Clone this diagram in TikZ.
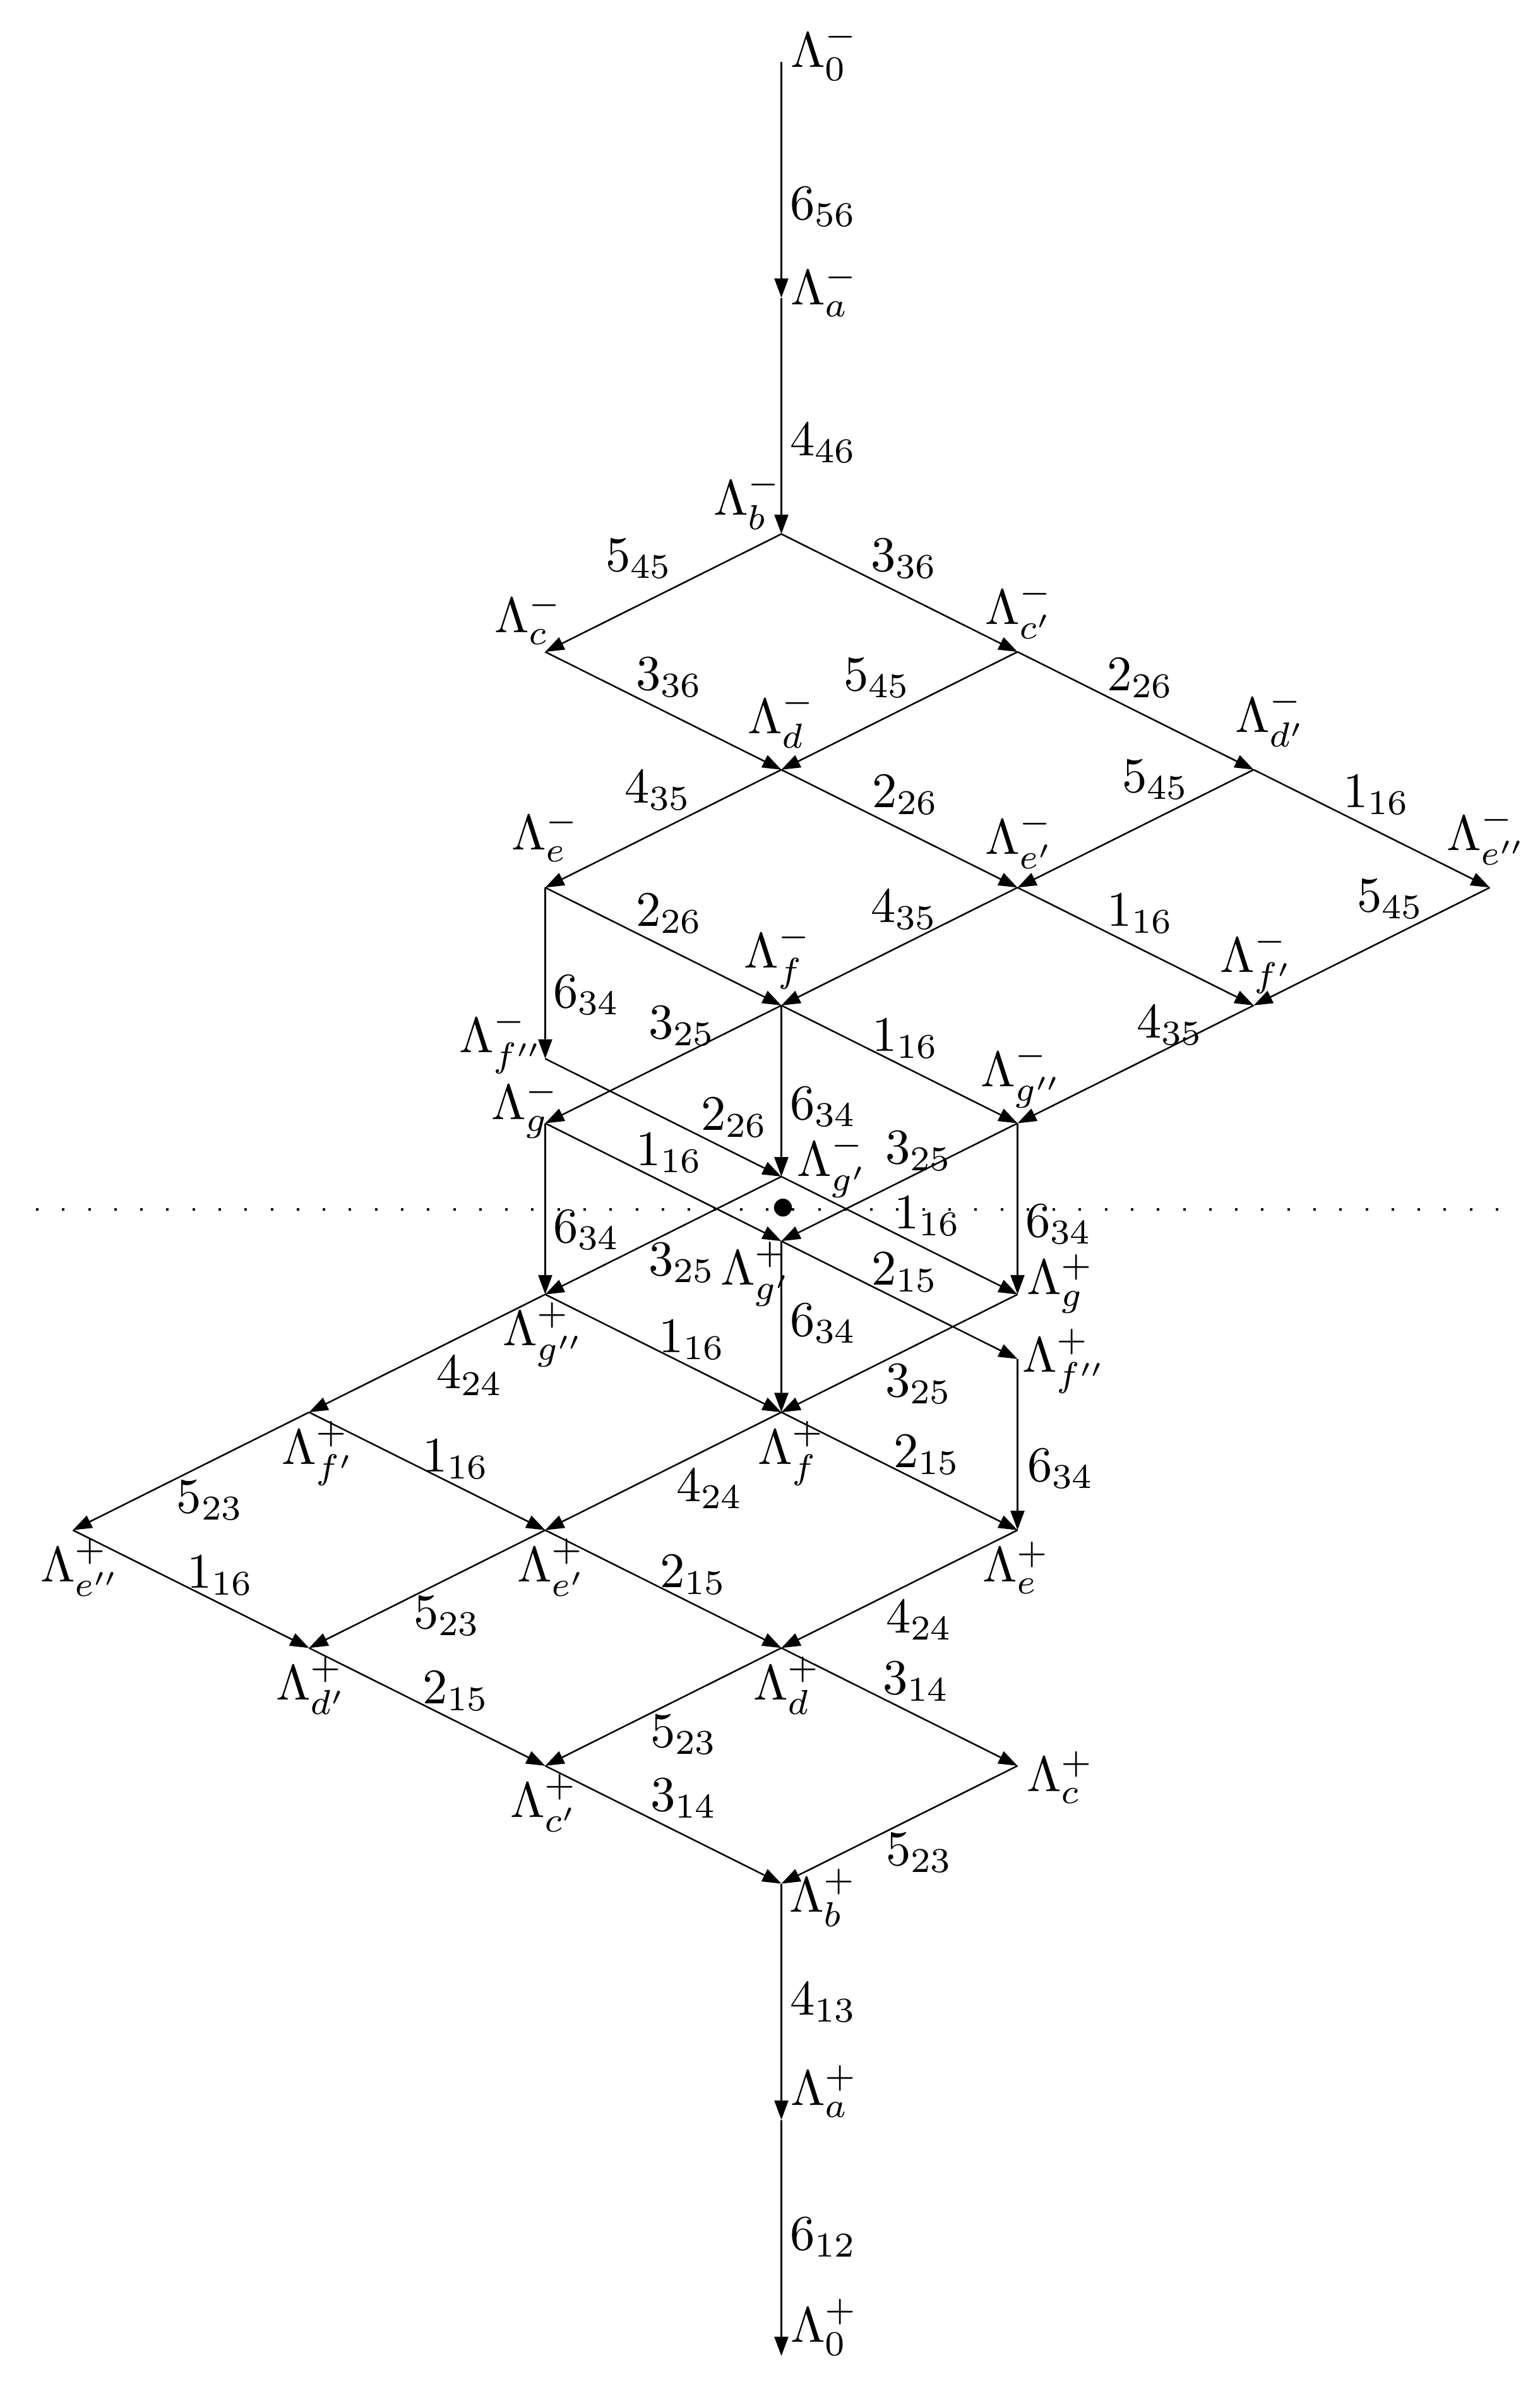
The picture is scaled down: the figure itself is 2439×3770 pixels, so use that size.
\documentclass[tikz,border=0pt]{standalone}
\usetikzlibrary{arrows.meta}
\newcommand\mylab[4]{\node[lab] (#1) at (#2,#3) {$#4$};}
\begin{document}
\begin{tikzpicture}[x=0.127pt,y=-0.127pt,
  dg/.style={line width=0.32pt,-{Triangle[length=3.8pt,width=2.7pt]}},
  vt/.style={line width=0.45pt,-{Triangle[length=3.9pt,width=2.75pt]}},
  lab/.style={anchor=base west,inner sep=0pt,outer sep=0pt}]
\useasboundingbox (0,0) rectangle (2439,3770);
% vertices
\coordinate (m0) at (1237.5,97.5);
\coordinate (ma) at (1237.5,471.5);
\coordinate (mb) at (1237.5,845.5);
\coordinate (mc) at (863.5,1032.1);
\coordinate (mc1) at (1611.5,1032.1);
\coordinate (md) at (1237.5,1218.7);
\coordinate (md1) at (1985.5,1218.7);
\coordinate (me) at (863.5,1405.3);
\coordinate (me1) at (1611.5,1405.3);
\coordinate (me2) at (2359.5,1405.3);
\coordinate (mf) at (1237.5,1591.9);
\coordinate (mf1) at (1985.5,1591.9);
\coordinate (mf2) at (863.5,1676.3);
\coordinate (mg) at (863.5,1778.5);
\coordinate (mg2) at (1611.5,1778.5);
\coordinate (mg1) at (1237.5,1862.9);
\coordinate (pg1) at (1237.5,1965.1);
\coordinate (pg) at (1611.5,2049.5);
\coordinate (pg2) at (863.5,2049.5);
\coordinate (pf2) at (1611.5,2151.7);
\coordinate (pf) at (1237.5,2236.1);
\coordinate (pf1) at (489.5,2236.1);
\coordinate (pe) at (1611.5,2422.7);
\coordinate (pe1) at (863.5,2422.7);
\coordinate (pe2) at (115.5,2422.7);
\coordinate (pd) at (1237.5,2609.3);
\coordinate (pd1) at (489.5,2609.3);
\coordinate (pc) at (1611.5,2795.9);
\coordinate (pc1) at (863.5,2795.9);
\coordinate (pb) at (1237.5,2982.5);
\coordinate (pa) at (1237.5,3356.5);
\coordinate (p0) at (1237.5,3730.5);
% dotted line and dot
\foreach \i in {0,...,56} {\fill ({57+41.286*\i},1913) rectangle +(4,4);}
\fill (1240,1912) circle (1.8pt);
% vertical edges
\draw[vt] (m0) -- (ma);
\draw[vt] (ma) -- (mb);
\draw[vt] (me) -- (mf2);
\draw[vt] (mf) -- (mg1);
\draw[vt] (mg) -- (pg2);
\draw[vt] (mg2) -- (pg);
\draw[vt] (pg1) -- (pf);
\draw[vt] (pf2) -- (pe);
\draw[vt] (pb) -- (pa);
\draw[vt] (pa) -- (p0);
% diagonal edges, upper part
\draw[dg] (mb) -- (mc);
\draw[dg] (mb) -- (mc1);
\draw[dg] (mc) -- (md);
\draw[dg] (mc1) -- (md);
\draw[dg] (mc1) -- (md1);
\draw[dg] (md) -- (me);
\draw[dg] (md) -- (me1);
\draw[dg] (md1) -- (me1);
\draw[dg] (md1) -- (me2);
\draw[dg] (me) -- (mf);
\draw[dg] (me1) -- (mf);
\draw[dg] (me1) -- (mf1);
\draw[dg] (me2) -- (mf1);
\draw[dg] (mf) -- (mg);
\draw[dg] (mf) -- (mg2);
\draw[dg] (mf1) -- (mg2);
\draw[dg] (mf2) -- (mg1);
% middle
\draw[dg] (mg) -- (pg1);
\draw[dg] (mg2) -- (pg1);
\draw[dg] (mg1) -- (pg2);
\draw[dg] (mg1) -- (pg);
\draw[dg] (pg1) -- (pf2);
% lower part
\draw[dg] (pg2) -- (pf1);
\draw[dg] (pg2) -- (pf);
\draw[dg] (pg) -- (pf);
\draw[dg] (pf1) -- (pe2);
\draw[dg] (pf1) -- (pe1);
\draw[dg] (pf) -- (pe1);
\draw[dg] (pf) -- (pe);
\draw[dg] (pe2) -- (pd1);
\draw[dg] (pe1) -- (pd1);
\draw[dg] (pe1) -- (pd);
\draw[dg] (pe) -- (pd);
\draw[dg] (pd1) -- (pc1);
\draw[dg] (pd) -- (pc1);
\draw[dg] (pd) -- (pc);
\draw[dg] (pc1) -- (pb);
\draw[dg] (pc) -- (pb);
% vertex labels
\mylab{L0m}{1252}{106}{\Lambda_0^-}
\mylab{Lam}{1252}{482}{\Lambda_a^-}
\mylab{Lbm}{1130}{815}{\Lambda_b^-}
\mylab{Lcm}{783}{1001}{\Lambda_c^-}
\mylab{Lc1m}{1560}{988}{\Lambda_{c'}^-}
\mylab{Ldm}{1184}{1161}{\Lambda_d^-}
\mylab{Ld1m}{1956}{1159}{\Lambda_{d'}^-}
\mylab{Lem}{810}{1345}{\Lambda_e^-}
\mylab{Le1m}{1560}{1352}{\Lambda_{e'}^-}
\mylab{Le2m}{2291}{1346}{\Lambda_{e''}^-}
\mylab{Lfm}{1178}{1532}{\Lambda_f^-}
\mylab{Lf1m}{1932}{1539}{\Lambda_{f'}^-}
\mylab{Lf2m}{727}{1666}{\Lambda_{f''}^-}
\mylab{Lgm}{778}{1772}{\Lambda_g^-}
\mylab{Lg2m}{1553}{1720}{\Lambda_{g''}^-}
\mylab{Lg1m}{1262}{1862}{\Lambda_{g'}^-}
\mylab{Lg1p}{1141}{2034}{\Lambda_{g'}^+}
\mylab{Lgp}{1626}{2049}{\Lambda_g^+}
\mylab{Lg2p}{796}{2130}{\Lambda_{g''}^+}
\mylab{Lf2p}{1619}{2172}{\Lambda_{f''}^+}
\mylab{Lfp}{1200}{2318}{\Lambda_f^+}
\mylab{Lf1p}{446}{2318}{\Lambda_{f'}^+}
\mylab{Lep}{1556}{2504}{\Lambda_e^+}
\mylab{Le1p}{819}{2504}{\Lambda_{e'}^+}
\mylab{Le2p}{64}{2504}{\Lambda_{e''}^+}
\mylab{Ldp}{1193}{2691}{\Lambda_d^+}
\mylab{Ld1p}{437}{2691}{\Lambda_{d'}^+}
\mylab{Lcp}{1626}{2836}{\Lambda_c^+}
\mylab{Lc1p}{808}{2877}{\Lambda_{c'}^+}
\mylab{Lbp}{1250}{3027}{\Lambda_b^+}
\mylab{Lap}{1252}{3333}{\Lambda_a^+}
\mylab{L0p}{1252}{3708}{\Lambda_0^+}
% edge labels
\mylab{t01}{1251}{347}{6_{56}}
\mylab{t02}{1251}{721}{4_{46}}
\mylab{t03}{959}{904}{5_{45}}
\mylab{t04}{1379}{904}{3_{36}}
\mylab{t05}{1007}{1092}{3_{36}}
\mylab{t06}{1336}{1093}{5_{45}}
\mylab{t07}{1753}{1093}{2_{26}}
\mylab{t08}{989}{1271}{4_{35}}
\mylab{t09}{1381}{1278}{2_{26}}
\mylab{t10}{1777}{1254}{5_{45}}
\mylab{t11}{2127}{1278}{1_{16}}
\mylab{t12}{1007}{1466}{2_{26}}
\mylab{t13}{1379}{1460}{4_{35}}
\mylab{t14}{1753}{1466}{1_{16}}
\mylab{t15}{2149}{1443}{5_{45}}
\mylab{t16}{876}{1595}{6_{34}}
\mylab{t17}{1027}{1644}{3_{25}}
\mylab{t18}{1381}{1664}{1_{16}}
\mylab{t19}{1800}{1643}{4_{35}}
\mylab{t20}{1110}{1789}{2_{26}}
\mylab{t21}{1251}{1772}{6_{34}}
\mylab{t22}{1402}{1842}{3_{25}}
\mylab{t23}{1007}{1845}{1_{16}}
\mylab{t24}{876}{1967}{6_{34}}
\mylab{t25}{1416}{1945}{1_{16}}
\mylab{t26}{1624}{1958}{6_{34}}
\mylab{t27}{1027}{2019}{3_{25}}
\mylab{t28}{1380}{2034}{2_{15}}
\mylab{t29}{1251}{2115}{6_{34}}
\mylab{t30}{1043}{2141}{1_{16}}
\mylab{t31}{1402}{2211}{3_{25}}
\mylab{t32}{691}{2198}{4_{24}}
\mylab{t33}{669}{2330}{1_{16}}
\mylab{t34}{1071}{2377}{4_{24}}
\mylab{t35}{1415}{2323}{2_{15}}
\mylab{t36}{1627}{2345}{6_{34}}
\mylab{t37}{280}{2395}{5_{23}}
\mylab{t38}{296}{2514}{1_{16}}
\mylab{t39}{1045}{2513}{2_{15}}
\mylab{t40}{655}{2578}{5_{23}}
\mylab{t41}{1403}{2585}{4_{24}}
\mylab{t42}{669}{2697}{2_{15}}
\mylab{t43}{1030}{2766}{5_{23}}
\mylab{t44}{1398}{2682}{3_{14}}
\mylab{t45}{1030}{2867}{3_{14}}
\mylab{t46}{1403}{2953}{5_{23}}
\mylab{t47}{1251}{3190}{4_{13}}
\mylab{t48}{1251}{3562}{6_{12}}
\end{tikzpicture}
\end{document}
